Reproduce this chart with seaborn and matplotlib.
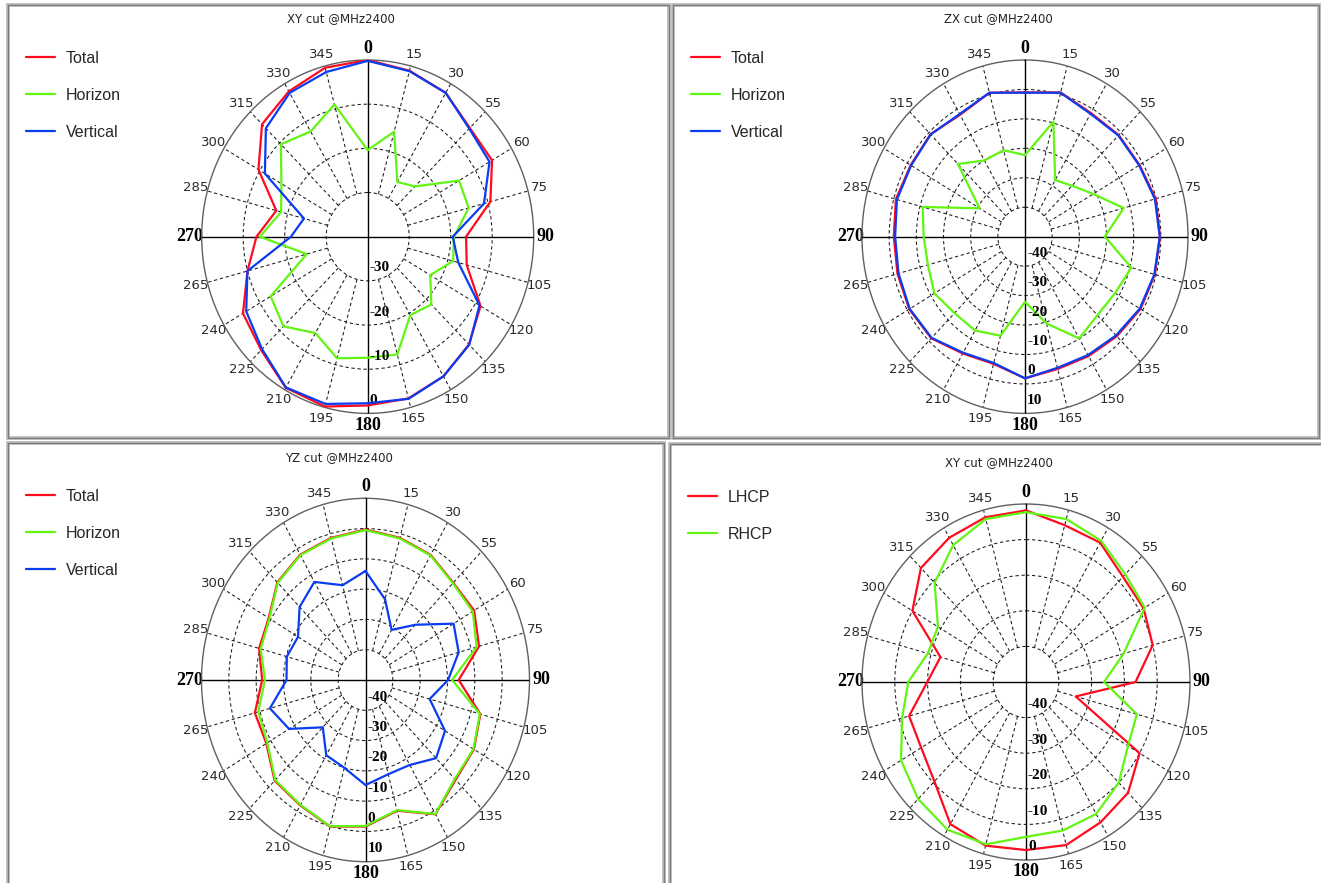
import numpy as np
import matplotlib
matplotlib.use("Agg")
import matplotlib.pyplot as plt
import seaborn as sns
from matplotlib.patches import Rectangle
from matplotlib.lines import Line2D
from matplotlib.transforms import offset_copy

# ---------------- data ----------------
angles_deg = [0, 15, 30, 45, 60, 75, 90, 105, 120, 135, 150, 165,
              180, 195, 210, 225, 240, 255, 270, 285, 300, 315, 330, 345]
angle_labels = ["0", "15", "30", "55", "60", "75", "90", "105", "120", "135", "150", "165",
                "180", "195", "210", "225", "240", "265", "270", "285", "300", "315", "330", "345"]

# XY cut (Total / Horizon / Vertical), dB
xy_total = [0, -1.1, -2.4, -5.2, -5.4, -9.4, -16.3, -15.3, -8.6, -5.5, -3.5, -2.1,
            -1.8, -0.2, -0.5, -3.7, -5.3, -10, -13.2, -17.2, -9.6, -4, -2, -0.4]
xy_horizon = [-20.4, -15.4, -25.7, -23.9, -14.6, -14.8, -19.2, -18.7, -22.6, -18.3, -19.5, -12.4,
              -12.6, -11.5, -14.8, -11.3, -13, -24.8, -14, -18.4, -16, -10.4, -12.5, -9]
xy_vertical = [-0.2, -1.2, -2.4, -5.4, -6.1, -11, -19.5, -17.4, -8.9, -5.4, -3.5, -2,
               -2.3, -0.8, -0.6, -4, -6.2, -10, -21.5, -24.1, -11.4, -5.3, -2.4, -1.4]

# ZX cut
zx_total = [-1.0, 0.7, -1.5, -1.2, -1.3, -0.2, -0.3, -0.5, -0.9, -2.2, -3.2, -3.5,
            -1.9, -5.3, -4.2, -1.2, -0.8, -1.4, -1.7, -0.8, -1.4, -0.8, -2.2, 0.6]
zx_horizon = [-22.3, -9.6, -27.8, -25.5, -21, -12.4, -20.6, -9.5, -11.7, -12.3, -10.1, -19.5,
              -27.9, -15.2, -13.2, -13.3, -11.5, -13, -12.7, -11, -30.7, -15.1, -20.1, -19.6]
zx_vertical = [-1.1, 0.6, -1.8, -1.4, -1.5, -0.5, -0.4, -0.7, -1.2, -2.6, -3.6, -3.9,
               -1.9, -5.6, -4.5, -1.4, -1, -1.8, -2.2, -1.2, -1.6, -0.9, -1.9, 0.6]

# YZ cut
yz_total = [-0.3, -1.4, -2.3, -4.6, -4.1, -7.0, -15.9, -6.5, -4.2, -3.4, 1.2, -5.3,
            -1.6, 0.1, -2.2, -3.0, -8.1, -8.1, -12.2, -9.7, -9.1, -4.4, -2.2, -1.4]
yz_horizon = [-0.5, -1.6, -2.5, -4.8, -4.7, -7.9, -18.3, -6.7, -4.4, -3.8, 1.1, -5.5,
              -1.8, 0, -2.4, -3.3, -8.5, -9.4, -13.2, -10.3, -9.4, -4.6, -2.4, -1.6]
yz_vertical = [-14, -22.4, -30.9, -24.2, -12.8, -14.7, -19.8, -25.7, -16.4, -13.5, -17.6, -17.8,
               -15.3, -20, -21.3, -27.9, -17.7, -13.8, -21.1, -20.2, -21.5, -15.9, -12.6, -17.6]

# XY cut, circular polarisation
xy_lhcp = [-1.8, -4.4, -4.8, -8.2, -8.6, -10, -16.6, -34.3, -10, -6, -4.5, -2.6,
           -2.8, -2.4, -3.9, -10.5, -13.1, -13.1, -19.9, -23, -10, -4.7, -3.2, -2.1]
xy_rhcp = [-2.3, -2.6, -4.2, -7.2, -8.2, -19.2, -26.2, -15, -14.1, -10, -7.2, -6.8,
           -6.5, -2.8, -2.1, -3.5, -6, -10.9, -14.1, -19, -19, -10.6, -5.6, -2.6]

titles = ["XY cut @MHz2400", "ZX cut @MHz2400", "YZ cut @MHz2400", "XY cut @MHz2400"]

RED = "#ff0a1e"
GREEN = "#62f512"
BLUE = "#0a3cf0"

# ---------------- figure ----------------
sns.set_theme(style="white")
plt.rcParams["font.family"] = ["Liberation Sans", "DejaVu Sans"]

W, H = 1321, 883
fig = plt.figure(figsize=(W / 100, H / 100), dpi=100)
fig.patch.set_facecolor("white")


def px_rect(x0, y0, x1, y1, **kw):
    fig.add_artist(Rectangle((x0 / W, 1 - y1 / H), (x1 - x0) / W, (y1 - y0) / H,
                             transform=fig.transFigure, fill=False, **kw))


# panel borders (sunken window frames)
for (x0, y0, x1, y1) in [(8, 5, 669, 438), (673, 5, 1319, 438),
                         (8, 443, 664, 893), (670, 444, 1331, 893)]:
    px_rect(x0, y0, x1, y1, ec="#b4b4b4", lw=2.6)
    px_rect(x0, y0, x1, y1, ec="#7a7a7a", lw=0.8)


def polar_panel(cx, cy, rx, ry, rmin, rmax, label_vals, series, title, legend_xy):
    ax = fig.add_axes([(cx - rx) / W, 1 - (cy + ry) / H, 2 * rx / W, 2 * ry / H],
                      projection="polar")
    ax.set_aspect("auto")
    ax.set_facecolor("white")
    ax.set_theta_zero_location("N")
    ax.set_theta_direction(-1)

    th = np.deg2rad(angles_deg + [360])
    for name, vals, col, z in series:
        v = list(vals) + [vals[0]]
        sns.lineplot(x=th, y=v, ax=ax, color=col, lw=1.6, sort=False,
                     estimator=None, zorder=z)
    ax.set_xlabel("")
    ax.set_ylabel("")

    ax.set_xlim(0, 2 * np.pi)
    ax.set_ylim(rmin, rmax)

    rings = list(range(rmin + 10, rmax, 10))
    ax.set_yticks(rings)
    ax.set_yticklabels([])
    ax.yaxis.grid(True, color="#1a1a1a", lw=0.75, linestyle=(0, (3.2, 2.6)))
    ax.xaxis.grid(False)

    # dashed spokes from the first ring outwards
    for a in angles_deg:
        if a % 90:
            ax.plot([np.deg2rad(a)] * 2, [rmin + 10, rmax], color="#1a1a1a",
                    lw=0.75, linestyle=(0, (3.2, 2.6)), zorder=2)
    # solid cross through the centre
    ax.plot([0, 0, np.pi], [rmax, rmin, rmax], color="black", lw=1.0, zorder=3)
    ax.plot([np.pi / 2, np.pi / 2, 3 * np.pi / 2], [rmax, rmin, rmax],
            color="black", lw=1.0, zorder=3)

    ax.spines["polar"].set_color("#606060")
    ax.spines["polar"].set_linewidth(1.0)

    ax.set_xticks(np.deg2rad(angles_deg))
    ax.set_xticklabels(angle_labels)
    ax.tick_params(axis="x", pad=1.5, labelsize=9.5, labelcolor="#2a2a2a", length=0)
    for lbl in ax.get_xticklabels():
        lbl.set_fontfamily(["DejaVu Sans"])
        if lbl.get_text() in ("0", "90", "180", "270"):
            lbl.set_fontfamily(["Liberation Serif"])
            lbl.set_fontweight("bold")
            lbl.set_fontsize(13)
            lbl.set_color("black")

    tr = offset_copy(ax.transData, fig=fig, x=2, y=13, units="dots")
    for r in label_vals:
        ax.text(np.pi, r, str(r), transform=tr, ha="left", va="center",
                fontfamily=["Liberation Serif"], fontweight="bold", fontsize=11,
                color="black", zorder=6)

    fig.text((cx - 27) / W, 1 - (cy - ry - 41) / H, title, ha="center", va="center",
             fontsize=8.5, color="#222222", fontfamily=["DejaVu Sans"])

    handles = [Line2D([], [], color=col, lw=1.6) for _, _, col, _ in series]
    names = [n for n, _, _, _ in series]
    fig.legend(handles, names, loc="upper left",
               bbox_to_anchor=(legend_xy[0] / W, 1 - legend_xy[1] / H),
               frameon=False, fontsize=11.5, handlelength=1.8, handletextpad=0.7,
               labelspacing=1.37, borderpad=0, borderaxespad=0)
    return ax


polar_panel(367.7, 236.7, 166, 176.7, -40, 0, [-30, -20, -10, 0],
            [("Total", xy_total, RED, 5), ("Horizon", xy_horizon, GREEN, 6),
             ("Vertical", xy_vertical, BLUE, 7)], titles[0], (26, 51))

polar_panel(1025, 236.7, 163, 176.7, -50, 10, [-40, -30, -20, -10, 0, 10],
            [("Total", zx_total, RED, 5), ("Horizon", zx_horizon, GREEN, 6),
             ("Vertical", zx_vertical, BLUE, 7)], titles[1], (691, 51))

polar_panel(365.5, 680, 164, 181.7, -50, 10, [-40, -30, -20, -10, 0, 10],
            [("Total", yz_total, RED, 5), ("Horizon", yz_horizon, GREEN, 7),
             ("Vertical", yz_vertical, BLUE, 6)], titles[2], (26, 489))

polar_panel(1026, 682, 164, 178, -50, 0, [-40, -30, -20, -10, 0],
            [("LHCP", xy_lhcp, RED, 5), ("RHCP", xy_rhcp, GREEN, 6)], titles[3], (688, 490))

fig.savefig("out.png", dpi=100, facecolor="white")
